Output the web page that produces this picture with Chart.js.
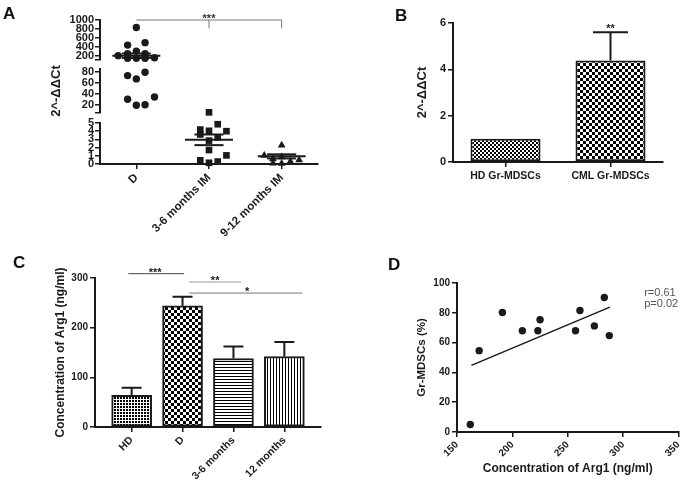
<!DOCTYPE html>
<html lang="en">
<head>
<meta charset="UTF-8">
<title>Arg1 and Gr-MDSCs</title>
<script src="https://cdn.jsdelivr.net/npm/chart.js"></script>
<style>
html, body { margin: 0; padding: 0; background: #fff; }
body { width: 689px; height: 488px; position: relative; overflow: hidden; font-family: 'Liberation Sans', Arial, sans-serif; }
canvas { position: absolute; }
.tag { position: absolute; font-weight: bold; font-size: 17px; line-height: 1; color: #111; }
</style>
</head>
<body>
<canvas id="chartA" width="345" height="245" style="left:0;top:0"></canvas>
<canvas id="chartB" width="319" height="245" style="left:370px;top:0"></canvas>
<canvas id="chartC" width="345" height="238" style="left:0;top:250px"></canvas>
<canvas id="chartD" width="289" height="233" style="left:400px;top:255px"></canvas>
<div class="tag" style="left:3px;top:5px">A</div>
<div class="tag" style="left:395px;top:7px">B</div>
<div class="tag" style="left:13px;top:254px">C</div>
<div class="tag" style="left:388px;top:256px">D</div>
<script>
// ---- data ----
// A: 2^-ddCt per patient, [x position, value]
const A_GROUPS = ['D', '3-6 months IM', '9-12 months IM'];
const A_D_UPPER = [[0, 830], [-0.12, 435], [0.12, 490], [-0.25, 198], [-0.12, 240], [0, 300], [0.12, 240], [0.25, 152], [-0.12, 140], [0, 140], [0.12, 140]];
const A_D_LOWER = [[-0.12, 73], [0, 67], [0.12, 79], [-0.12, 30], [0, 19], [0.12, 20], [0.25, 34]];
const A_IM36 = [[1, 6.3], [1.12, 4.85], [0.88, 4.2], [1, 4.05], [1.24, 4.0], [0.88, 3.6], [1.12, 3.25], [1, 2.85], [1, 1.7], [1.24, 1.05], [0.88, 0.45], [1, 0.15], [1.12, 0.3]];
const A_IM912 = [[2, 2.3], [1.76, 1.05], [1.88, 0.6], [2, 0.85], [2.12, 0.3], [2.24, 0.5], [1.88, 0.1], [2, 0.05], [2.12, 0.15]];
const A_MEAN = [196, 2.95, 0.93];
const A_SEM = [50, 0.65, 0.25];
const A_MEAN_AXIS = ['yTop', 'yBot', 'yBot'];
const A_RANGE_TOP = [100, 1000];
const A_RANGE_MID = [5, 85];
const A_RANGE_BOT = [0, 5];
const A_TICKS_TOP = [200, 400, 600, 800, 1000];
const A_TICKS_MID = [20, 40, 60, 80];
const A_TICKS_BOT = [0, 1, 2, 3, 4, 5];

// B
const B_GROUPS = ['HD Gr-MDSCs', 'CML Gr-MDSCs'];
const B_VALUES = [1.0, 4.38];
const B_SEM = [0, 1.22];
const B_TICKS = [0, 2, 4, 6];

// C
const C_GROUPS = ['HD', 'D', '3-6 months', '12 months'];
const C_X = [0, 1, 2, 3];
const C_VALUES = [64, 244, 138, 142];
const C_SEM = [15, 18, 24, 29];
const C_TICKS = [0, 100, 200, 300];

// D
const D_ARG1 = [162, 170, 191, 209, 223, 225, 257, 261, 274, 283, 287.5];
const D_GR = [5, 54.6, 80.2, 68, 68, 75.3, 68, 81.5, 71.2, 90.3, 64.7];
const D_FIT_X = [163, 288];
const D_FIT_Y = [44.7, 83.8];

// ---- helpers ----
const FONT = "'Liberation Sans', Arial, sans-serif";
const INK = '#1a1a1a';
Chart.defaults.font.family = FONT;
Chart.defaults.color = INK;

const bold = size => ({ family: FONT, size: size, weight: 'bold' });
const fixW = w => s => { s.width = w; };
const fixH = h => s => { s.height = h; };
const only = vals => s => { s.ticks = vals.map(v => ({ value: v })); };
const pts = arr => arr.map(p => ({ x: p[0], y: p[1] }));

function axis(o) {
  return {
    ...o,
    border: { color: INK, width: 2, ...(o.border || {}) },
    grid: { drawOnChartArea: false, color: INK, lineWidth: 1.5, tickLength: 5, ...(o.grid || {}) },
    ticks: { color: INK, padding: 2, autoSkip: false, ...(o.ticks || {}) }
  };
}

function gapAxis(weight, w) {
  return {
    type: 'linear', position: 'left', stack: 'a', stackWeight: weight,
    grid: { display: false }, border: { display: false }, ticks: { display: false },
    afterFit: fixW(w)
  };
}

const baseOpts = {
  responsive: false,
  animation: false,
  events: [],
  plugins: { legend: { display: false }, tooltip: { enabled: false } }
};

// annotation lines / texts in data units
function marks(cfg) {
  return {
    id: 'marks',
    afterDatasetsDraw(chart) {
      const ctx = chart.ctx;
      const xs = chart.scales.x;
      ctx.save();
      (cfg.lines || []).forEach(l => {
        const ys = chart.scales[l.axis || 'y'];
        ctx.strokeStyle = l.color || '#777';
        ctx.lineWidth = 1;
        ctx.beginPath();
        l.pts.forEach((p, k) => {
          const px = xs.getPixelForValue(p[0]);
          const py = ys.getPixelForValue(p[1]);
          if (k) ctx.lineTo(px, py); else ctx.moveTo(px, py);
        });
        ctx.stroke();
      });
      (cfg.texts || []).forEach(t => {
        const ys = chart.scales[t.axis || 'y'];
        ctx.fillStyle = t.color || INK;
        ctx.font = t.font || 'bold 11px ' + FONT;
        ctx.textAlign = t.align || 'center';
        ctx.textBaseline = t.baseline || 'alphabetic';
        ctx.fillText(t.text, xs.getPixelForValue(t.x), ys.getPixelForValue(t.y));
      });
      ctx.restore();
    }
  };
}

function errorBars(sem) {
  return {
    id: 'errorBars',
    afterDatasetsDraw(chart) {
      const ctx = chart.ctx;
      const ys = chart.scales.y;
      const ds = chart.data.datasets[0].data;
      ctx.save();
      ctx.strokeStyle = INK;
      ctx.lineWidth = 2;
      chart.getDatasetMeta(0).data.forEach((bar, i) => {
        if (!sem[i]) return;
        const v = typeof ds[i] === 'object' ? ds[i].y : ds[i];
        const top = ys.getPixelForValue(v + sem[i]);
        const half = bar.width / 4;
        ctx.beginPath();
        ctx.moveTo(bar.x, bar.y);
        ctx.lineTo(bar.x, top);
        ctx.moveTo(bar.x - half, top);
        ctx.lineTo(bar.x + half, top);
        ctx.stroke();
      });
      ctx.restore();
    }
  };
}

function pattern(ctx, size, paint) {
  const c = document.createElement('canvas');
  c.width = c.height = size;
  const g = c.getContext('2d');
  g.fillStyle = '#fff';
  g.fillRect(0, 0, size, size);
  g.fillStyle = '#000';
  paint(g, size);
  return ctx.createPattern(c, 'repeat');
}
const checker = (ctx, n) => pattern(ctx, 2 * n, g => { g.fillRect(0, 0, n, n); g.fillRect(n, n, n, n); });
const dots = ctx => pattern(ctx, 3, g => g.fillRect(0, 0, 2, 2));
const hLines = (ctx, n) => pattern(ctx, n, g => g.fillRect(0, 0, n, 1));
const vLines = (ctx, n) => pattern(ctx, n, g => g.fillRect(0, 0, 1, n));

// ---- A: scatter with broken y axis ----
const ctxA = document.getElementById('chartA').getContext('2d');
const aLines = [];
A_MEAN.forEach((m, i) => {
  [[m, 0.33], [m + A_SEM[i], 0.2], [m - A_SEM[i], 0.2]].forEach(([v, half]) => {
    aLines.push({
      data: [{ x: i - half, y: v }, { x: i + half, y: v }],
      yAxisID: A_MEAN_AXIS[i], showLine: true, borderColor: INK, borderWidth: 2,
      pointRadius: 0, order: -1
    });
  });
});
const dot = (data, yID, style, r) => ({
  data: pts(data), yAxisID: yID, pointStyle: style, pointRadius: r,
  backgroundColor: INK, borderColor: INK, borderWidth: 0, clip: false
});

new Chart(ctxA, {
  type: 'scatter',
  data: {
    datasets: [
      dot(A_D_UPPER, 'yTop', 'circle', 3.7),
      dot(A_D_LOWER, 'yMid', 'circle', 3.7),
      dot(A_IM36, 'yBot', 'rect', 4.7),
      dot(A_IM912, 'yBot', 'triangle', 4.5),
      ...aLines
    ]
  },
  options: {
    ...baseOpts,
    layout: { padding: { top: 20, right: 27, left: 0, bottom: 0 } },
    scales: {
      x: axis({
        type: 'linear', min: -0.5, max: 2.5,
        afterBuildTicks: only([0, 1, 2]), afterFit: fixH(81),
        ticks: { callback: v => A_GROUPS[v], minRotation: 45, maxRotation: 45, font: bold(11.5) }
      }),
      yBot: axis({
        type: 'linear', position: 'left', stack: 'a', stackWeight: 41,
        min: A_RANGE_BOT[0], max: A_RANGE_BOT[1],
        afterBuildTicks: only(A_TICKS_BOT), afterFit: fixW(100),
        ticks: { font: bold(11), padding: 1, callback: v => v }
      }),
      gapLow: gapAxis(10, 100),
      yMid: axis({
        type: 'linear', position: 'left', stack: 'a', stackWeight: 44,
        min: A_RANGE_MID[0], max: A_RANGE_MID[1],
        afterBuildTicks: only([A_RANGE_MID[0], ...A_TICKS_MID]), afterFit: fixW(100),
        ticks: { font: bold(11), padding: 1, callback: v => v === A_RANGE_MID[0] ? '' : v },
        title: { display: true, text: '2^-ΔΔCt', font: bold(13), color: INK, padding: { top: 49, bottom: 0 } }
      }),
      gapHigh: gapAxis(9, 100),
      yTop: axis({
        type: 'linear', position: 'left', stack: 'a', stackWeight: 40,
        min: A_RANGE_TOP[0], max: A_RANGE_TOP[1],
        afterBuildTicks: only([A_RANGE_TOP[0], ...A_TICKS_TOP]), afterFit: fixW(100),
        ticks: { font: bold(11), padding: 1, callback: v => v === A_RANGE_TOP[0] ? '' : v }
      })
    }
  },
  plugins: [marks({
    lines: [
      { axis: 'yTop', color: '#777', pts: [[0, 1000], [2, 1000], [2, 813]] },
      { axis: 'yTop', color: '#777', pts: [[1, 1000], [1, 813]] }
    ],
    texts: [{ axis: 'yTop', x: 1, y: 955, text: '***', color: '#333' }]
  })]
});

// ---- B: bars ----
const ctxB = document.getElementById('chartB').getContext('2d');
new Chart(ctxB, {
  type: 'bar',
  data: {
    labels: B_GROUPS,
    datasets: [{
      data: B_VALUES,
      backgroundColor: [checker(ctxB, 2), checker(ctxB, 3)],
      borderColor: INK, borderWidth: 2, borderSkipped: false,
      barPercentage: 0.667, categoryPercentage: 1
    }]
  },
  options: {
    ...baseOpts,
    layout: { padding: { top: 23, right: 26, left: 0, bottom: 0 } },
    scales: {
      x: axis({
        grid: { offset: false }, afterFit: fixH(83),
        ticks: { font: bold(10.5), maxRotation: 0, padding: 3 }
      }),
      y: axis({
        min: 0, max: 6, afterBuildTicks: only(B_TICKS), afterFit: fixW(83),
        ticks: { font: bold(11) },
        title: { display: true, text: '2^-ΔΔCt', font: bold(13), color: INK, padding: { top: 45, bottom: 0 } }
      })
    }
  },
  plugins: [errorBars(B_SEM), marks({ texts: [{ x: 1, y: 5.62, text: '**' }] })]
});

// ---- C: bars ----
const ctxC = document.getElementById('chartC').getContext('2d');
new Chart(ctxC, {
  type: 'bar',
  data: {
    datasets: [{
      data: C_X.map((x, i) => ({ x: x, y: C_VALUES[i] })),
      backgroundColor: [dots(ctxC), checker(ctxC, 3), hLines(ctxC, 3), vLines(ctxC, 3)],
      borderColor: INK, borderWidth: 2, borderSkipped: false, barThickness: 40
    }]
  },
  options: {
    ...baseOpts,
    layout: { padding: { top: 28, right: 24, left: 0, bottom: 0 } },
    scales: {
      x: axis({
        type: 'linear', min: -0.72, max: 3.72, offset: false,
        grid: { offset: false },
        afterBuildTicks: only(C_X), afterFit: fixH(61),
        ticks: { callback: v => C_GROUPS[v], minRotation: 45, maxRotation: 45, font: bold(10.5) }
      }),
      y: axis({
        min: 0, max: 300, afterBuildTicks: only(C_TICKS), afterFit: fixW(95),
        ticks: { font: bold(10) },
        title: { display: true, text: 'Concentration of Arg1 (ng/ml)', font: bold(12), color: INK, padding: { top: 53, bottom: 0 } }
      })
    }
  },
  plugins: [errorBars(C_SEM), marks({
    lines: [
      { color: '#444', pts: [[-0.065, 308.7], [1.03, 308.7]] },
      { color: '#999', pts: [[1.13, 291.9], [2.15, 291.9]] },
      { color: '#777', pts: [[1.13, 269.7], [3.35, 269.7]] }
    ],
    texts: [
      { x: 0.46, y: 304.6, text: '***' },
      { x: 1.64, y: 287.8, text: '**' },
      { x: 2.27, y: 265.6, text: '*' }
    ]
  })]
});

// ---- D: correlation ----
const ctxD = document.getElementById('chartD').getContext('2d');
new Chart(ctxD, {
  type: 'scatter',
  data: {
    datasets: [
      {
        data: D_ARG1.map((x, i) => ({ x: x, y: D_GR[i] })),
        pointRadius: 3.7, backgroundColor: INK, borderColor: INK, borderWidth: 0, clip: false
      },
      {
        type: 'line',
        data: D_FIT_X.map((x, i) => ({ x: x, y: D_FIT_Y[i] })),
        borderColor: INK, borderWidth: 1.5, pointRadius: 0, fill: false
      }
    ]
  },
  options: {
    ...baseOpts,
    layout: { padding: { top: 28, right: 10, left: 0, bottom: 0 } },
    scales: {
      x: axis({
        type: 'linear', min: 150, max: 350, afterFit: fixH(56),
        ticks: { stepSize: 50, minRotation: 45, maxRotation: 45, font: bold(10) },
        title: { display: true, text: 'Concentration of Arg1 (ng/ml)', font: bold(12), color: INK, padding: { top: 0, bottom: 12 } }
      }),
      y: axis({
        min: 0, max: 100, afterFit: fixW(57),
        ticks: { stepSize: 20, font: bold(10) },
        title: { display: true, text: 'Gr-MDSCs (%)', font: bold(11.5), color: INK, padding: { top: 15, bottom: 0 } }
      })
    }
  },
  plugins: [marks({
    texts: [
      { x: 319, y: 93.5, text: 'r=0.61', align: 'left', baseline: 'middle', color: '#555', font: '11px ' + FONT },
      { x: 319, y: 86, text: 'p=0.02', align: 'left', baseline: 'middle', color: '#555', font: '11px ' + FONT }
    ]
  })]
});
</script>
</body>
</html>
